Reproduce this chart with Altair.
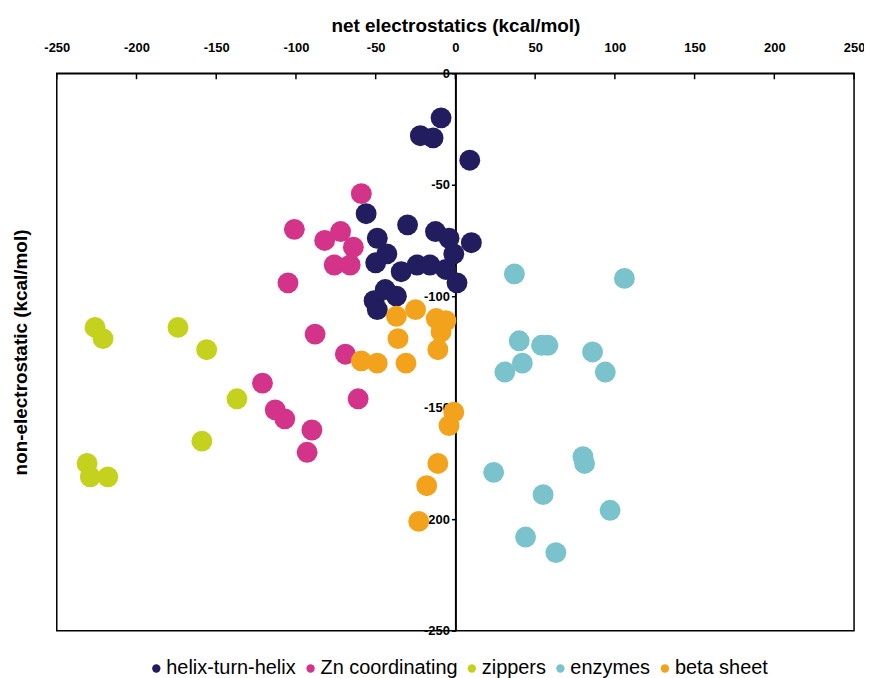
import altair as alt
import pandas as pd

# ---- data ----
series_names = ["helix-turn-helix", "Zn coordinating", "zippers", "enzymes", "beta sheet"]
series_colors = ["#211d5e", "#d4338a", "#c5d21d", "#7ac3cc", "#f2a31b"]

helix_x = [-9, -22, -14, 9, -56, -30, -49, -43, -50, -12.5, -4, 10, -1, -34, -24, -16, -6, 1, -51, -44, -49, -37]
helix_y = [-20, -28, -29, -39, -63, -68, -74, -81, -85, -71, -74, -76, -81, -89, -86, -86, -88, -94, -102, -97, -106, -100]

zn_x = [-59, -101, -105, -82, -72, -64, -66, -76, -88, -69, -121, -113, -107, -90, -93, -61]
zn_y = [-54, -70, -94, -75, -71, -78, -86, -86, -117, -126, -139, -151, -155, -160, -170, -146]

zip_x = [-226, -221, -174, -156, -137, -159, -231, -229, -218]
zip_y = [-114, -119, -114, -124, -146, -165, -175, -181, -181]

enz_x = [37, 106, 40, 54, 58, 42, 31, 86, 94, 24, 80, 81, 55, 97, 44, 63]
enz_y = [-90, -92, -120, -122, -122, -130, -134, -125, -134, -179, -172, -175, -189, -196, -208, -215]

beta_x = [-37, -25, -36, -12, -6, -9, -11, -59, -49, -31, -1, -4, -11, -18, -23]
beta_y = [-109, -106, -119, -110, -111, -116, -124, -129, -130, -130, -152, -158, -175, -185, -201]

x_ticks = [-250, -200, -150, -100, -50, 0, 50, 100, 150, 200, 250]
y_ticks = [0, -50, -100, -150, -200, -250]

# drawing order (later on top)
draw_order = [("Zn coordinating", zn_x, zn_y), ("helix-turn-helix", helix_x, helix_y),
              ("zippers", zip_x, zip_y), ("enzymes", enz_x, enz_y), ("beta sheet", beta_x, beta_y)]
rows = []
for name, xs, ys in draw_order:
    for a, b in zip(xs, ys):
        rows.append({"net": a, "nonel": b, "group": name})
df = pd.DataFrame(rows)
df["ord"] = range(len(df))

tick_df = pd.DataFrame({"t": x_ticks})

FONT = "Liberation Sans, Arial, sans-serif"
W, H = 801, 560
HYPHEN = "replace(datum.label, '\u2212', '-')"

xscale = alt.Scale(domain=[-250, 250], nice=False)
yscale = alt.Scale(domain=[-250, 0], nice=False)

points = alt.Chart(df).mark_circle(size=440, opacity=1).encode(
    x=alt.X("net:Q", scale=xscale, title="net electrostatics (kcal/mol)",
            axis=alt.Axis(orient="top", values=x_ticks, grid=False, tickSize=0,
                          labelPadding=19, labelFlush=False, domainColor="black",
                          domainWidth=1.5, labelFontSize=13, labelFont=FONT,
                          labelFontWeight="bold", labelColor="black", labelExpr=HYPHEN,
                          titleFont=FONT, titleFontSize=19, titleFontWeight="bold",
                          titleColor="black", titlePadding=6)),
    y=alt.Y("nonel:Q", scale=yscale, title="non-electrostatic (kcal/mol)",
            axis=alt.Axis(orient="left", values=y_ticks, grid=False, offset=-W / 2,
                          tickSize=4, tickColor="black", tickWidth=1.5,
                          domainColor="black", domainWidth=2, labelPadding=2,
                          labelFontSize=13, labelFont=FONT, labelFontWeight="bold",
                          labelColor="black", labelExpr=HYPHEN,
                          titleFont=FONT, titleFontSize=19,
                          titleFontWeight="bold", titleColor="black",
                          titleX=-437, titleY=H / 2, titleAngle=270,
                          titleBaseline="middle", titleAlign="center")),
    color=alt.Color("group:N",
                    scale=alt.Scale(domain=series_names, range=series_colors),
                    legend=alt.Legend(title=None, orient="none", direction="horizontal",
                                      legendX=90, legendY=588, symbolType="circle",
                                      symbolSize=70, labelFont=FONT, labelFontSize=20,
                                      labelColor="black", columnPadding=4,
                                      symbolStrokeWidth=0, labelOffset=0)),
    order=alt.Order("ord:Q"),
)

inner_ticks = alt.Chart(tick_df).mark_rule(color="black", strokeWidth=1.5).encode(
    x=alt.X("t:Q", scale=xscale),
    y=alt.value(0),
    y2=alt.value(6),
)

chart = alt.layer(inner_ticks, points).properties(
    width=W, height=H,
    autosize=alt.AutoSizeParams(type="none"),
    padding={"left": 49, "top": 64, "right": 10, "bottom": 46},
).configure_view(stroke="black", strokeWidth=1.5)

chart.save("out.html", embed_options={"renderer": "svg", "actions": False})
